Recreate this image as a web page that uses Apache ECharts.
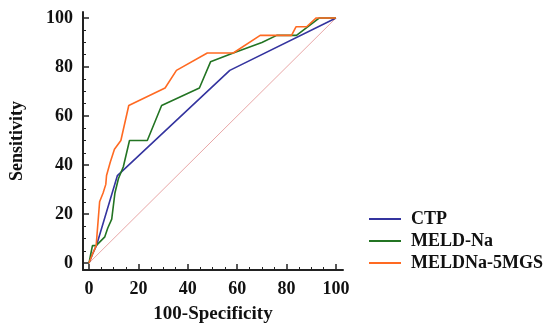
<!DOCTYPE html>
<html style="height: 100%">
<head>
<meta charset="UTF-8">
<title>ROC</title>
<script src="https://cdn.jsdelivr.net/npm/echarts@6/dist/echarts.min.js"></script>
</head>
<body style="height: 100%; margin: 0; background: #fff">
<div id="container" style="width: 548px; height: 329px;"></div>
<script type="text/javascript">
var seriesNames = ['CTP', 'MELD-Na', 'MELDNa-5MGS'];
// [100-Specificity, Sensitivity]
var ctp = [[0, 0], [1.4, 3.6], [3, 7.1], [11.5, 35.7], [57, 78.6], [100, 100]];
var meldNa = [[0, 0], [0.7, 0], [0.7, 3.6], [1.4, 3.6], [1.4, 7.1], [2.9, 7.1], [6.4, 10.7],
	[7.1, 10.7], [7.6, 14.3], [9.2, 17.9], [10.5, 28.6], [11.9, 34.4], [13.9, 39.3],
	[16.4, 50], [23.6, 50], [29.4, 64.3], [44.7, 71.4], [49.2, 82.1], [58.4, 85.7],
	[70, 90], [76, 92.9], [84, 92.9], [93.3, 100], [100, 100]];
var meldNa5 = [[0, 0], [1.4, 3.6], [2.9, 7.1], [4.3, 25], [5.7, 28.6], [6.8, 32.1], [7.1, 35.7],
	[8.6, 41.1], [10.3, 46.4], [12.9, 50], [16.1, 64.3], [30.8, 71.4], [35.4, 78.6],
	[47.9, 85.7], [58.4, 85.7], [69.3, 92.9], [82, 92.9], [83.8, 96.4], [88.1, 96.4],
	[92, 100], [100, 100]];
var refLine = [[0, 0], [100, 100]];
var majorTicks = [0, 20, 40, 60, 80, 100];
var minorTicks = [5, 10, 15, 25, 30, 35, 45, 50, 55, 65, 70, 75, 85, 90, 95];
var colors = ['#34349f', '#237423', '#ff6a22'];

var myChart = echarts.init(document.getElementById('container'));
var font = 'Liberation Serif';
var tickLabel = {color: '#111', fontFamily: font, fontWeight: 'bold', fontSize: 18};
var nameStyle = {color: '#111', fontFamily: font, fontWeight: 'bold', fontSize: 19};

// axis lines run a little past 0 and 100 on both ends
var xMin = -6 / 2.47, xMax = xMin + 260 / 2.47;
var yMin = -7 / 2.47, yMax = yMin + 260 / 2.47;

function mainAxis(min, max, extra) {
	return Object.assign({
		type: 'value',
		min: min, max: max,
		nameLocation: 'middle',
		axisLine: {show: true, onZero: false, lineStyle: {color: '#222', width: 2}},
		axisTick: {show: true, inside: true, length: 6, customValues: majorTicks,
			lineStyle: {color: '#222', width: 1.5}},
		axisLabel: Object.assign({margin: 10, customValues: majorTicks}, tickLabel),
		splitLine: {show: false}
	}, extra);
}
function minorAxis(min, max, pos) {
	return {
		type: 'value',
		position: pos,
		min: min, max: max,
		axisLine: {show: false, onZero: false},
		axisTick: {show: true, inside: true, length: 3, customValues: minorTicks,
			lineStyle: {color: '#222', width: 1}},
		axisLabel: {show: false},
		splitLine: {show: false}
	};
}

var option = {
	animation: false,
	grid: {left: 83, top: 12, width: 260, height: 260},
	legend: {
		orient: 'vertical',
		left: 364,
		top: 205,
		itemWidth: 32,
		itemHeight: 2,
		itemGap: 4,
		icon: 'rect',
		data: seriesNames,
		textStyle: {color: '#111', fontFamily: font, fontWeight: 'bold', fontSize: 18, padding: [0, 0, 0, 5]}
	},
	xAxis: [
		mainAxis(xMin, xMax, {position: 'bottom', name: '100-Specificity', nameGap: 35,
			nameTextStyle: nameStyle}),
		minorAxis(xMin, xMax, 'bottom')
	],
	yAxis: [
		mainAxis(yMin, yMax, {position: 'left', name: 'Sensitivity', nameGap: 57, nameRotate: 90,
			nameTextStyle: Object.assign({}, nameStyle, {fontSize: 18})}),
		minorAxis(yMin, yMax, 'left')
	],
	series: [{
		name: 'reference',
		type: 'line',
		data: refLine,
		symbol: 'none',
		silent: true,
		lineStyle: {color: '#e8a6a6', width: 1},
		z: 1
	}, {
		name: seriesNames[0],
		type: 'line',
		data: ctp,
		symbol: 'none',
		itemStyle: {color: colors[0]},
		lineStyle: {color: colors[0], width: 1.6},
		z: 2
	}, {
		name: seriesNames[1],
		type: 'line',
		data: meldNa,
		symbol: 'none',
		itemStyle: {color: colors[1]},
		lineStyle: {color: colors[1], width: 1.6},
		z: 3
	}, {
		name: seriesNames[2],
		type: 'line',
		data: meldNa5,
		symbol: 'none',
		itemStyle: {color: colors[2]},
		lineStyle: {color: colors[2], width: 1.6},
		z: 4
	}]
};
myChart.setOption(option);
</script>
</body>
</html>
